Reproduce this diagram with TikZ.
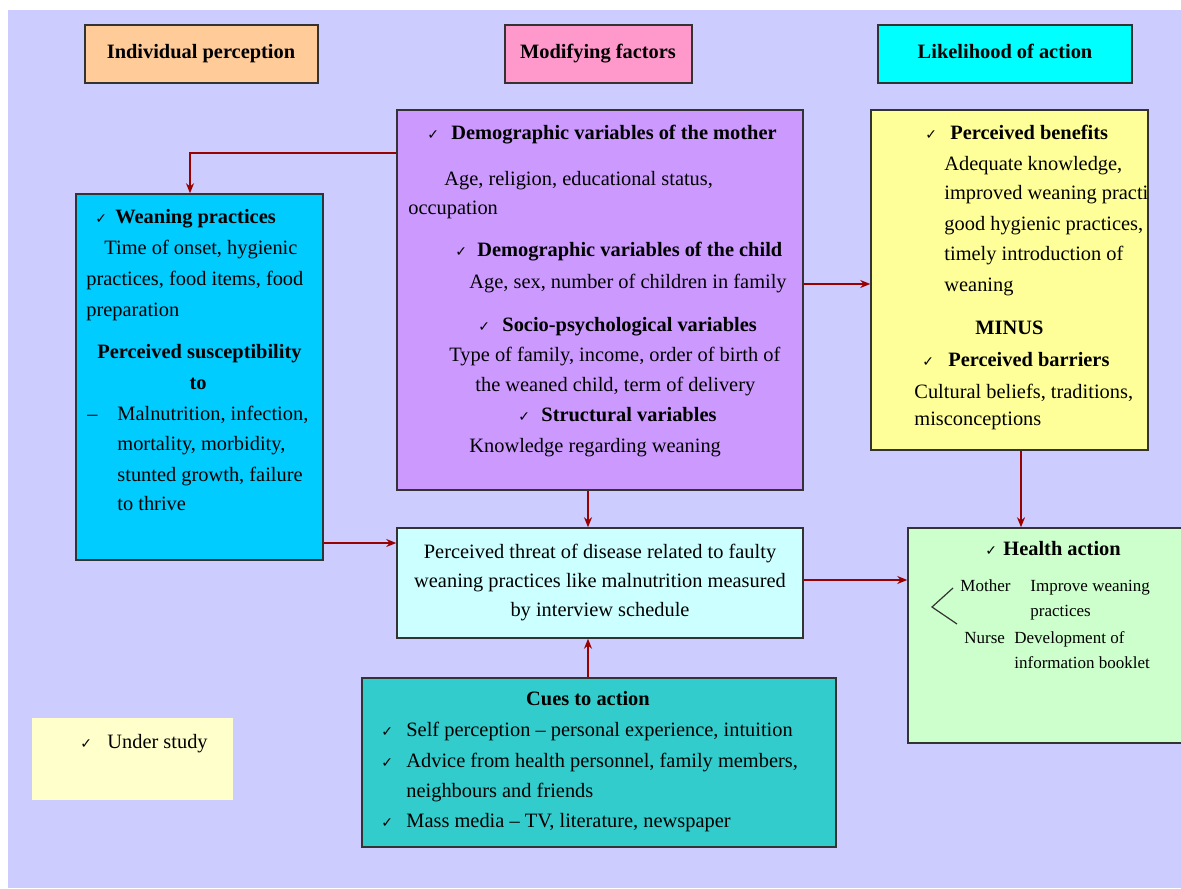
\documentclass[tikz,border=0pt]{standalone}
\usepackage{fontspec}
\setmainfont{Liberation Serif}
\newfontfamily\symf{DejaVu Sans}
\usetikzlibrary{arrows.meta,fit}
\definecolor{bgc}{HTML}{CCCCFF}
\definecolor{peach}{HTML}{FFCC99}
\definecolor{pinkc}{HTML}{FF99CC}
\definecolor{cyanc}{HTML}{00FFFF}
\definecolor{purplec}{HTML}{CC99FF}
\definecolor{bluec}{HTML}{00CCFF}
\definecolor{yellowc}{HTML}{FFFF99}
\definecolor{lcyan}{HTML}{CCFFFF}
\definecolor{lgreen}{HTML}{CCFFCC}
\definecolor{tealc}{HTML}{33CCCC}
\definecolor{creamc}{HTML}{FFFFCC}
\definecolor{arrowred}{HTML}{990000}
\definecolor{edgec}{HTML}{333333}
\newcommand\ck{{\symf\fontsize{7}{8}\selectfont ✓}}
\begin{document}
\begin{tikzpicture}[x={(0.5pt,0)}, y={(0,-0.5pt)},
  box/.style={draw=edgec, line width=0.75pt, inner sep=0pt},
  t/.style={anchor=base west, inner sep=0pt, font=\fontsize{10.2}{12}\selectfont},
  tb/.style={t, font=\fontsize{10.2}{12}\selectfont\bfseries},
  tc/.style={anchor=base, inner sep=0pt, font=\fontsize{10.2}{12}\selectfont},
  tcb/.style={tc, font=\fontsize{10.2}{12}\selectfont\bfseries},
  ts/.style={t, font=\fontsize{8.5}{10}\selectfont},
  ckn/.style={anchor=base west, inner sep=0pt},
  arr/.style={draw=arrowred, line width=0.8pt, -{Stealth[length=5pt,width=4pt]}}]
\useasboundingbox (0,0) rectangle (1181,888);
\fill[white] (0,0) rectangle (1181,888);
\fill[bgc] (8,10) rectangle (1181,888);

% headers
\node[box, fill=peach, fit={(85,25) (318,83)}] (h1) {};
\node[box, fill=pinkc, fit={(505,25) (692,83)}] (h2) {};
\node[box, fill=cyanc, fit={(878,25) (1132,83)}] (h3) {};
\node[tcb] (h1t) at (201,59) {Individual perception};
\node[tcb] (h2t) at (598,59) {Modifying factors};
\node[tcb] (h3t) at (1005,59) {Likelihood of action};

% boxes
\node[box, fill=purplec, fit={(397,110) (803,490)}] (purple) {};
\node[box, fill=bluec, fit={(76,194) (323,560)}] (wean) {};
\node[box, fill=yellowc, fit={(871,110) (1148,450)}] (yellow) {};
\node[box, fill=lcyan, fit={(397,528) (803,638)}] (threat) {};
\node[box, fill=lgreen, fit={(908,528) (1190,743)}] (health) {};
\node[box, fill=tealc, fit={(362,678) (836,847)}] (cues) {};
\node[inner sep=0pt, fill=creamc, fit={(32,718) (233,800)}] (study) {};

% weaning box text
\node[ckn] (wc1) at (95,223) {\ck};
\node[tb] (w1) at (115,223) {Weaning practices};
\node[t] (w2) at (104,254) {Time of onset, hygienic};
\node[t] (w3) at (86,285) {practices, food items, food};
\node[t] (w4) at (86,316) {preparation};
\node[tb] (w5) at (97,358) {Perceived susceptibility};
\node[tcb] (w6) at (198,389) {to};
\node[t] (wd) at (87,420) {–};
\node[t] (w7) at (117,420) {Malnutrition, infection,};
\node[t] (w8) at (117,450) {mortality, morbidity,};
\node[t] (w9) at (117,481) {stunted growth, failure};
\node[t] (w10) at (117,510) {to thrive};

% purple box text
\node[ckn] (pc1) at (427,139) {\ck};
\node[tb] (p1) at (451,139) {Demographic variables of the mother};
\node[t] (p2) at (444,185) {Age, religion, educational status,};
\node[t] (p3) at (408,214) {occupation};
\node[ckn] (pc2) at (455,256) {\ck};
\node[tb] (p4) at (477,256) {Demographic variables of the child};
\node[t] (p5) at (469,288) {Age, sex, number of children in family};
\node[ckn] (pc3) at (478,331) {\ck};
\node[tb] (p6) at (502,331) {Socio-psychological variables};
\node[t] (p7) at (449,361) {Type of family, income, order of birth of};
\node[t] (p8) at (475,391) {the weaned child, term of delivery};
\node[ckn] (pc4) at (518,421) {\ck};
\node[tb] (p9) at (541,421) {Structural variables};
\node[t] (p10) at (469,452) {Knowledge regarding weaning};

% yellow box text
\begin{scope}
\clip (871,110) rectangle (1147,450);
\node[ckn] (yc1) at (925,139) {\ck};
\node[tb] (y1) at (950,139) {Perceived benefits};
\node[t] (y2) at (944,170) {Adequate knowledge,};
\node[t] (y3) at (944,199) {improved weaning practices,};
\node[t] (y4) at (944,230) {good hygienic practices,};
\node[t] (y5) at (944,260) {timely introduction of};
\node[t] (y6) at (944,291) {weaning};
\node[tb] (y7) at (975,334) {MINUS};
\node[ckn] (yc2) at (922,366) {\ck};
\node[tb] (y8) at (948,366) {Perceived barriers};
\node[t] (y9) at (914,398) {Cultural beliefs, traditions,};
\node[t] (y10) at (914,425) {misconceptions};
\end{scope}

% threat box text
\node[tc] (th1) at (600,558) {Perceived threat of disease related to faulty};
\node[tc] (th2) at (600,587) {weaning practices like malnutrition measured};
\node[tc] (th3) at (600,616) {by interview schedule};

% health action text
\node[ckn] (hc1) at (985,555) {\ck};
\node[tb] (ha1) at (1003,555) {Health action};
\node[ts] (ha2) at (960,591) {Mother};
\node[ts] (ha3) at (1030,591) {Improve weaning};
\node[ts] (ha4) at (1030,616) {practices};
\node[ts] (ha5) at (964,643) {Nurse};
\node[ts] (ha6) at (1014,643) {Development of};
\node[ts] (ha7) at (1014,668) {information booklet};
\draw[edgec, line width=0.6pt] (953,588) -- (932,607) -- (957,624);

% cues text
\node[tcb] (c0) at (588,705) {Cues to action};
\node[ckn] (cc1) at (381,736) {\ck};
\node[t] (c1) at (406,736) {Self perception – personal experience, intuition};
\node[ckn] (cc2) at (381,767) {\ck};
\node[t] (c2) at (406,767) {Advice from health personnel, family members,};
\node[t] (c3) at (406,797) {neighbours and friends};
\node[ckn] (cc3) at (381,827) {\ck};
\node[t] (c4) at (406,827) {Mass media – TV, literature, newspaper};

% under study
\node[ckn] (sc) at (80,748) {\ck};
\node[t] (s1) at (107,748) {Under study};

% connectors
\coordinate (ya) at (0,153);
\coordinate (xa) at (190,0);
\coordinate (yb) at (0,543);
\coordinate (xc) at (588,0);
\coordinate (yd) at (0,284);
\coordinate (xe) at (1021,0);
\coordinate (yf) at (0,580);
\draw[arr] (ya -| purple.west) -| (xa |- wean.north);
\draw[arr] (yb -| wean.east) -- (yb -| threat.west);
\draw[arr] (xc |- purple.south) -- (xc |- threat.north);
\draw[arr] (xc |- cues.north) -- (xc |- threat.south);
\draw[arr] (yd -| purple.east) -- (yd -| yellow.west);
\draw[arr] (xe |- yellow.south) -- (xe |- health.north);
\draw[arr] (yf -| threat.east) -- (yf -| health.west);
\end{tikzpicture}
\end{document}
